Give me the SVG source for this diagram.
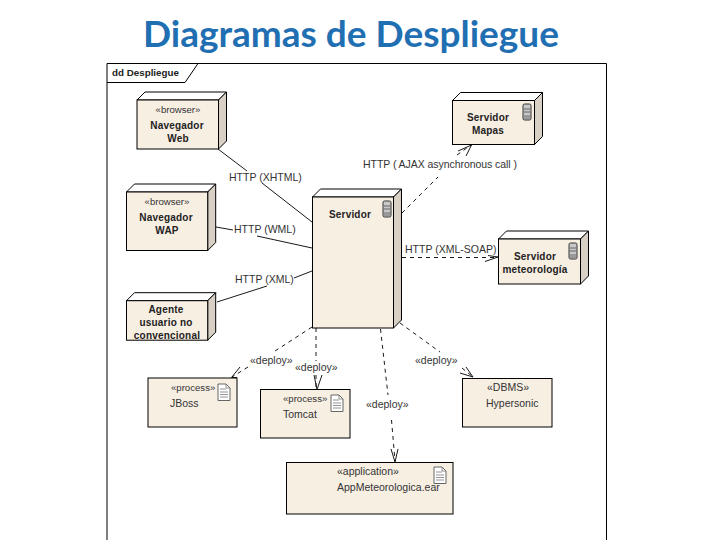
<svg xmlns="http://www.w3.org/2000/svg" width="720" height="540" viewBox="0 0 720 540">
<defs>
<style>
.f{fill:#f8efe3;stroke:#000;stroke-width:1}
.w{fill:#fff;stroke:#000;stroke-width:1}
.s{fill:#d8d0c4;stroke:#000;stroke-width:1}
.st{font-family:"Liberation Sans",Arial,sans-serif;font-size:9.600px;fill:#333}
.t{font-family:"Liberation Sans",Arial,sans-serif;font-size:10.500px;fill:#333}
.b{font-family:"Liberation Sans",Arial,sans-serif;font-size:10px;font-weight:bold;fill:#222;text-anchor:middle;letter-spacing:.2px}
.l{font-family:"Liberation Sans",Arial,sans-serif;font-size:10.500px;fill:#333}
.c{fill:none;stroke:#000;stroke-width:.9}
.d{fill:none;stroke:#000;stroke-width:.9;stroke-dasharray:4 4}
.a{fill:none;stroke:#000;stroke-width:.9}
.srv{fill:#c8c8c8;stroke:#333;stroke-width:1}
.doc{fill:#fff;stroke:#555;stroke-width:.9}
</style>
<g id="srvIcon"><rect class="srv" x="0" y="0" width="8" height="16" rx="1.500"/><path d="M1 5h6M1 8h6" stroke="#666" fill="none"/><rect x="1" y="11" width="6" height="4" fill="#999"/></g>
<g id="docIcon"><path class="doc" d="M0 0h8l4 4v12.500h-12z"/><path d="M8 0v4h4M2 5h6M2 8h8M2 10.500h8M2 13h8" fill="none" stroke="#777" stroke-width=".8"/></g>
</defs>
<rect width="720" height="540" fill="#fff"/>
<text x="351" y="47" font-family="Lato,'Open Sans',sans-serif" font-weight="700" font-size="37" fill="#1f6fb2" text-anchor="middle" textLength="416" lengthAdjust="spacingAndGlyphs">Diagramas de Despliegue</text>
<g id="frame">
<path d="M107 540V63.500H606.500V540" fill="#fff" stroke="#000" stroke-width="1"/>
<path d="M107 82.500H185L198 63.500" fill="none" stroke="#000" stroke-width="1"/>
<text x="112" y="76" font-family="'Liberation Sans',Arial,sans-serif" font-size="9.800px" font-weight="bold" fill="#222">dd Despliegue</text>
</g>
<g id="connectors">
<path class="c" d="M218 149L247 171M262 183L312 222"/>
<path class="c" d="M216 227L233 230M257 236L312 248"/>
<path class="c" d="M217 302L267 286M294 278L312 271"/>
<path class="d" d="M402 213L438 177M457 155L471 145"/>
<path class="a" d="M458 151L471.500 145L466 156"/>
<path class="d" d="M402 257.500L497 257.500"/>
<path class="a" d="M485 261.500L498 257L488 255.500"/>
<path class="d" d="M312 327L272 353M248 367L232 377"/>
<path class="a" d="M240 367L231.500 377.500L237 377.500"/>
<path class="d" d="M316 328V361M316 375V389"/>
<path class="a" d="M314 375L317 389.500L322 375"/>
<path class="d" d="M380.500 329L388 395M391.500 420L395 461"/>
<path class="a" d="M391 449L395 462L398 449"/>
<path class="d" d="M400 323L440 352M462 368L473 377"/>
<path class="a" d="M466 367L473 377L460 373"/>
</g>
<g id="n-web">
<path class="w" d="M137 100l8-8h81.500l-8 8z"/><path class="s" d="M218.500 100l8-8v49l-8 8z"/><rect class="f" x="137" y="100" width="81.500" height="49"/>
<text class="st" x="178" y="113" text-anchor="middle">«browser»</text>
<text class="b" x="177" y="129">Navegador</text><text class="b" x="178" y="142">Web</text>
</g>
<g id="n-wap">
<path class="w" d="M126.500 192l8-8h81.200l-8 8z"/><path class="s" d="M207.700 192l8-8v58.500l-8 8z"/><rect class="f" x="126.500" y="192" width="81.200" height="58.500"/>
<text class="st" x="167" y="205" text-anchor="middle">«browser»</text>
<text class="b" x="166" y="221">Navegador</text><text class="b" x="167" y="234">WAP</text>
</g>
<g id="n-agente">
<path class="w" d="M126.500 300.700l8-8h81.200l-8 8z"/><path class="s" d="M207.700 300.700l8-8v39.500l-8 8z"/><rect class="f" x="126.500" y="300.700" width="81.200" height="39.500"/>
<text class="b" x="166" y="313">Agente</text><text class="b" x="166" y="326">usuario no</text><text class="b" x="167" y="339">convencional</text>
</g>
<g id="n-servidor">
<path class="w" d="M312.500 197l8-8h81l-8 8z"/><path class="s" d="M393.500 197l8-8v131l-8 8z"/><rect class="f" x="312.500" y="197" width="81" height="131"/>
<text class="b" x="350" y="218">Servidor</text>
<use href="#srvIcon" x="383" y="201"/>
</g>
<g id="n-mapas">
<path class="w" d="M452.500 100.500l8-8h82l-8 8z"/><path class="s" d="M534.500 100.500l8-8v44l-8 8z"/><rect class="f" x="452.500" y="100.500" width="82" height="44"/>
<text class="b" x="488" y="121">Servidor</text><text class="b" x="488" y="134">Mapas</text>
<use href="#srvIcon" x="523" y="104"/>
</g>
<g id="n-meteo">
<path class="w" d="M498.500 239l8-8h82l-8 8z"/><path class="s" d="M580.500 239l8-8v45l-8 8z"/><rect class="f" x="498.500" y="239" width="82" height="45"/>
<text class="b" x="535" y="260">Servidor</text><text class="b" x="535" y="273">meteorología</text>
<use href="#srvIcon" x="569" y="243"/>
</g>
<g id="n-jboss">
<rect class="f" x="148" y="378" width="89" height="49"/>
<text class="st" x="171" y="391">«process»</text><text class="t" x="170" y="407">JBoss</text>
<use href="#docIcon" x="218" y="384"/>
</g>
<g id="n-tomcat">
<rect class="f" x="260.500" y="389.500" width="89.500" height="48.500"/>
<text class="st" x="283" y="402">«process»</text><text class="t" x="283" y="418">Tomcat</text>
<use href="#docIcon" x="331" y="395"/>
</g>
<g id="n-hyper">
<rect class="f" x="462.500" y="378.500" width="89.500" height="48.500"/>
<text class="t" x="487" y="391">«DBMS»</text><text class="t" x="486" y="407">Hypersonic</text>
</g>
<g id="n-app">
<rect class="f" x="286.500" y="462.500" width="166.500" height="51.500"/>
<text class="t" x="337" y="475">«application»</text><text class="t" x="337" y="491">AppMeteorologica.ear</text>
<use href="#docIcon" x="434" y="467"/>
</g>
<g id="labels">
<text class="l" x="229" y="181">HTTP (XHTML)</text>
<text class="l" x="234" y="233">HTTP (WML)</text>
<text class="l" x="235" y="283">HTTP (XML)</text>
<text class="l" x="363" y="168" textLength="154">HTTP ( AJAX asynchronous call )</text>
<text class="l" x="405" y="253">HTTP (XML-SOAP)</text>
<text class="l" x="250" y="364">«deploy»</text>
<text class="l" x="295" y="371">«deploy»</text>
<text class="l" x="366" y="408">«deploy»</text>
<text class="l" x="415" y="364">«deploy»</text>
</g>
</svg>
